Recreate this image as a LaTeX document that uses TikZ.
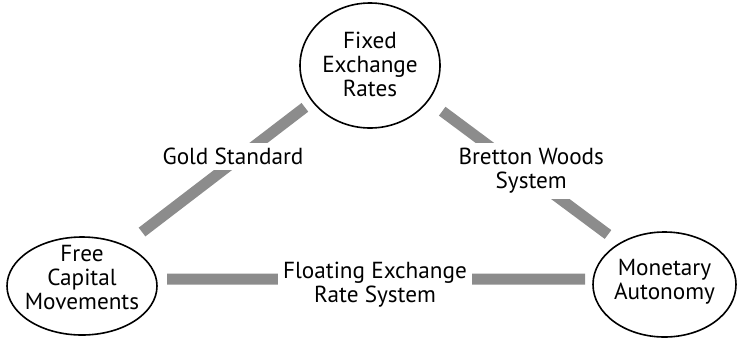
\documentclass[tikz,border=0pt]{standalone}
\usepackage{fontspec}
\setmainfont{PT Sans}
\usetikzlibrary{shapes.geometric}
\definecolor{barcol}{RGB}{140,140,140}
% lines in a column, lifted inside the ellipse
\newcommand{\stack}[2][0bp]{\raisebox{#1}[\height][\depth]{\begin{tabular}{@{}c@{}}#2\end{tabular}}}
\begin{document}
\begin{tikzpicture}[x=1bp,y=-1bp,
  goal/.style={draw, ellipse, line width=1.6bp, inner sep=-10bp, font=\fontsize{23.3}{24}\selectfont},
  bar/.style={draw=barcol, line width=11bp},
  tag/.style={fill=white, align=center, inner xsep=5bp, inner ysep=5bp, font=\fontsize{23.3}{24}\selectfont}]
  \useasboundingbox (0,0) rectangle (737,340);
  \node[goal, minimum width=140bp, minimum height=125bp] (fixed) at (370,65.5) {\stack[-2bp]{Fixed\\Exchange\\Rates}};
  \node[goal, minimum width=150bp, minimum height=98bp] (free) at (82,286) {\stack[5bp]{Free\\Capital\\Movements}};
  \node[goal, minimum width=143bp, minimum height=105bp] (monetary) at (664.5,284.5) {\stack[2bp]{Monetary\\Autonomy}};
  \path[bar] ([yshift=8bp]free.center) edge[shorten <=75.6bp, shorten >=82bp] node[tag, xshift=7bp, yshift=11bp] {Gold Standard} ([yshift=8bp]fixed.center);
  \path[bar] ([yshift=8bp]fixed.center) edge[shorten <=90bp, shorten >=70.4bp] node[tag, xshift=14bp, yshift=-4bp] {Bretton Woods\\System} ([yshift=8bp]monetary.center);
  \path[bar] ([yshift=7bp]free.center) edge[shorten <=85bp, shorten >=79.5bp] node[tag, xshift=1.75bp, yshift=-5.5bp] {Floating Exchange\\Rate System} ([yshift=5.5bp]monetary.center);
\end{tikzpicture}
\end{document}
